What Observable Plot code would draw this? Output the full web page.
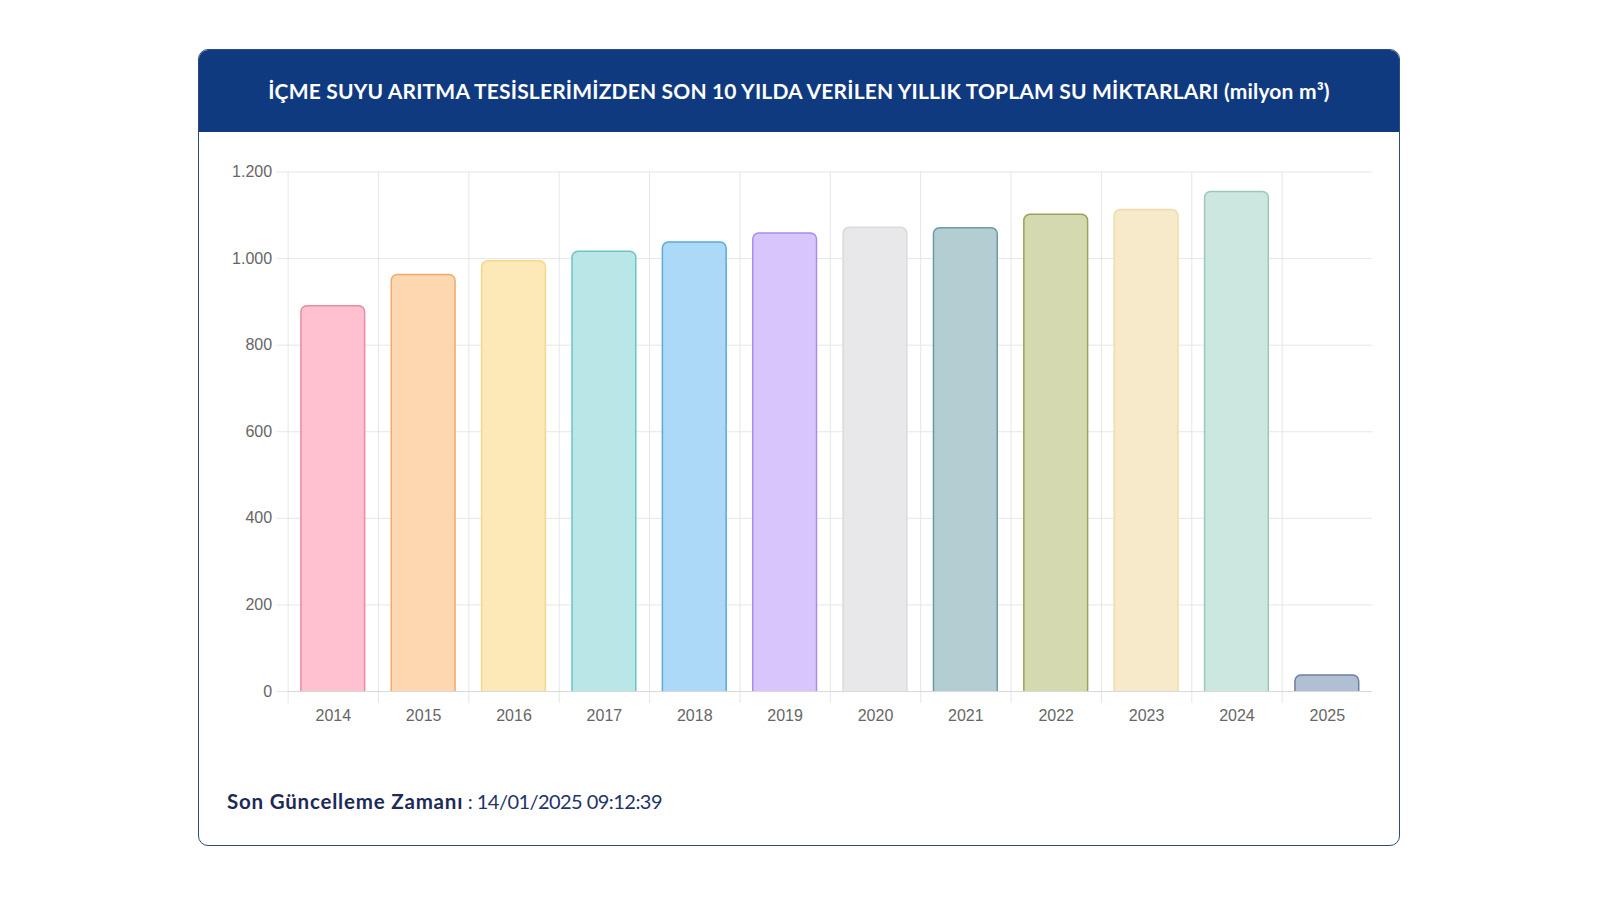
<!DOCTYPE html>
<html>
<head>
<meta charset="utf-8">
<script src="https://cdn.jsdelivr.net/npm/d3@7"></script>
<script src="https://cdn.jsdelivr.net/npm/@observablehq/plot@0.6"></script>
<style>
  html, body { margin: 0; padding: 0; background: #ffffff; width: 1600px; height: 900px; overflow: hidden; }
  #card { position: absolute; left: 198px; top: 49px; width: 1202px; height: 797px; box-sizing: border-box;
          border: 1.5px solid #2d4b7e; border-radius: 10px; overflow: hidden; background: #fff; }
  #header { position: absolute; left: 0; top: 0; right: 0; height: 80px; background: #103a80;
            color: #fff; font-family: Lato, "Noto Sans", sans-serif; font-weight: 700; font-size: 21px;
            letter-spacing: 0.17px; border-bottom: 2px solid #103a80;
            display: flex; align-items: center; justify-content: center; white-space: nowrap; }
  #chart { position: absolute; left: 0px; top: 81px; }
  #footer { position: absolute; left: 28px; top: 739px; font-family: Lato, "Noto Sans", sans-serif;
            font-size: 20px; color: #23336a; white-space: nowrap; letter-spacing: -0.55px; }
  #footer b { color: #1b2a58; font-weight: 700; font-size: 20.5px; letter-spacing: 0.8px; }
</style>
</head>
<body>
<div id="card">
  <div id="header"></div>
  <div id="chart"></div>
  <div id="footer"></div>
</div>
<script>
// ---- data ----
const title = "İÇME SUYU ARITMA TESİSLERİMİZDEN SON 10 YILDA VERİLEN YILLIK TOPLAM SU MİKTARLARI (milyon m³)";
const footerLabel = "Son Güncelleme Zamanı";
const footerValue = " : 14/01/2025 09:12:39";
const years = ["2014","2015","2016","2017","2018","2019","2020","2021","2022","2023","2024","2025"];
const values = [890, 962, 994, 1016, 1037, 1058, 1071, 1070, 1101, 1112, 1154, 37];
const yTicks = [0, 200, 400, 600, 800, 1000, 1200];

// ---- palette (separate from data) ----
const fillPalette = ["#ffc0cf","#fdd7b0","#fde8b8","#b9e6e6","#acd9f7","#d7c6fc","#e8e8ea","#b2ced2","#d5d9b0","#f7eaca","#cce7df","#b1bfd5"];
const strokePalette = ["#ec8aa2","#f2a96a","#f8d68a","#6cc3c3","#5aa9df","#a98af0","#dadadc","#6e9aa0","#9aa35c","#efdcaa","#9cc8ba","#6c7f9e"];

document.getElementById("header").textContent = title;
const f = document.getElementById("footer");
const b = document.createElement("b"); b.textContent = footerLabel;
f.appendChild(b); f.appendChild(document.createTextNode(footerValue));

const data = years.map((y, i) => ({year: y, value: values[i]}));
const fillOf = new Map(years.map((y, i) => [y, fillPalette[i]]));
const strokeOf = new Map(years.map((y, i) => [y, strokePalette[i]]));

const W = 1199, H = 600, mL = 88.6, mR = 26, mT = 40.5, mB = 40;
const step = (W - mL - mR) / years.length;
const trFmt = d3.formatLocale({decimal: ",", thousands: ".", grouping: [3], currency: ["", ""]}).format(",");

const chart = Plot.plot({
  width: W, height: H,
  marginLeft: mL, marginRight: mR, marginTop: mT, marginBottom: mB,
  style: {fontFamily: "'Liberation Sans', Arial, sans-serif", fontSize: "16px", color: "#666", background: "transparent"},
  x: {domain: years, padding: 0, round: false, label: null},
  y: {domain: [0, 1200], label: null},
  color: {type: "identity"},
  marks: [
    Plot.ruleY(yTicks, {y: d => d, stroke: "#e6e6e6", strokeWidth: 1, insetLeft: -11}),
    Plot.ruleX(years, {x: d => d, dx: -step / 2, stroke: "#e6e6e6", strokeWidth: 1, insetBottom: -12}),
    Plot.barY(data, {x: "year", y: "value", fill: d => fillOf.get(d.year), stroke: d => strokeOf.get(d.year),
      strokeWidth: 1.5, insetLeft: 13.3, insetRight: 13.3, insetBottom: -8, rx: 6, clip: true}),
    Plot.ruleY([0], {stroke: "#d9d9d9", strokeWidth: 1}),
    Plot.axisY({ticks: yTicks, tickFormat: trFmt, tickSize: 0, tickPadding: 16, fontSize: 16}),
    Plot.axisX({tickSize: 0, tickPadding: 18, fontSize: 16})
  ]
});
document.getElementById("chart").appendChild(chart);
</script>
</body>
</html>
